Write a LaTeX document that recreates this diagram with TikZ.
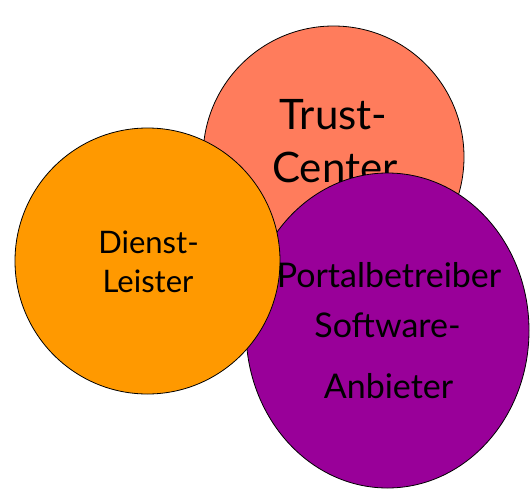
\documentclass[tikz,border=0pt]{standalone}
\usepackage{fontspec}
\setmainfont{Lato}
\usetikzlibrary{shapes.geometric}

\definecolor{trustcol}{RGB}{255,124,92}
\definecolor{dienstcol}{RGB}{255,153,0}
\definecolor{portalcol}{RGB}{153,0,153}

\tikzset{
	party/.style={ellipse, draw=black, line width=0.8pt, inner sep=0pt},
	partytext/.style={anchor=base, inner sep=0pt, text=black}
}

\begin{document}
\begin{tikzpicture}[x=1pt,y=-1pt]
		
		\useasboundingbox (0,0) rectangle (530,490);
		
		% Trust-Center (unten)
		\node (trust) at (333.5,157) [party, fill=trustcol, minimum width=261pt, minimum height=262pt] {};
		\node (t1) at (333.5,129) [partytext, font=\fontsize{42}{50}\selectfont] {Trust-};
		\node (t2) [partytext, font=\fontsize{42}{50}\selectfont] at (335,182) {Center};
		
		% Portalbetreiber / Software-Anbieter
		\node (portal) at (387.5,330.5) [party, fill=portalcol, minimum width=283pt, minimum height=315pt] {};
		
		% Dienst-Leister (oben)
		\node (dienst) at (147.5,261) [party, fill=dienstcol, minimum width=265pt, minimum height=266pt] {};
		\node (d1) at (148.5,253) [partytext, font=\fontsize{31}{38}\selectfont] {Dienst-};
		\node (d2) at (148,292) [partytext, font=\fontsize{31}{38}\selectfont] {Leister};
		
		\node (p1) at (389,287) [partytext, font=\fontsize{34}{42}\selectfont] {Portalbetreiber};
		\node (p2) at (387.5,337) [partytext, font=\fontsize{34}{42}\selectfont] {Software-};
		\node (p3) at (388.5,398) [partytext, font=\fontsize{34}{42}\selectfont] {Anbieter};
		
	\end{tikzpicture}
\end{document}
